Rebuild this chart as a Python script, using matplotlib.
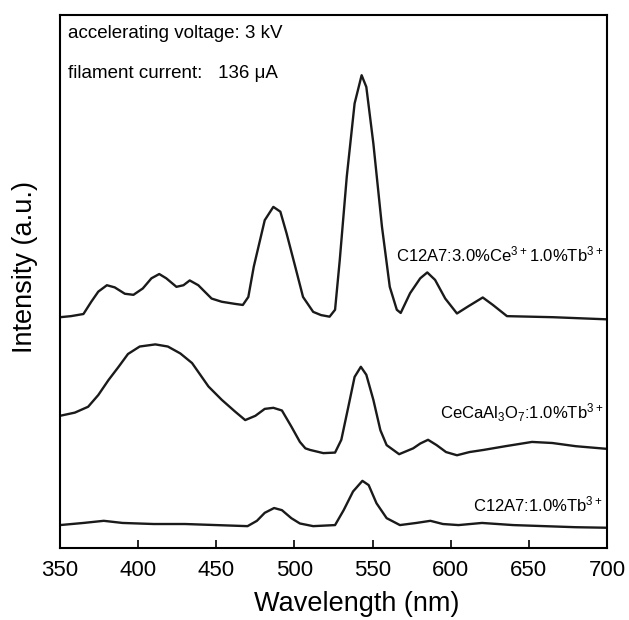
import matplotlib
matplotlib.use("Agg")
import matplotlib.pyplot as plt

plt.rcParams['font.family'] = ['Liberation Sans', 'Noto Sans CJK SC', 'DejaVu Sans']
plt.rcParams['mathtext.default'] = 'regular'

# Top: C12A7:3.0%Ce3+1.0%Tb3+
wl_top = [350, 357, 365, 370, 374.5, 380, 385, 391.5, 397, 403, 408.5, 413.5, 418, 424.5, 429, 433,
          438.5, 447, 453.5, 462, 467, 470.5, 474, 481, 486.5, 491, 495, 500.5, 505.5, 512, 517,
          522.5, 526, 529, 533.5, 538.5, 543, 546, 550.5, 556, 561, 565.5, 568, 574, 580.5, 585, 590,
          596.5, 604, 611, 620.5, 627, 636, 665.5, 700]
int_top = [43.3, 43.5, 43.9, 46.2, 48.1, 49.3, 48.9, 47.7, 47.5, 48.7, 50.6, 51.4, 50.6, 49.0, 49.3, 50.2,
           49.3, 46.8, 46.2, 45.8, 45.6, 47.1, 52.8, 61.5, 64.0, 63.1, 59.0, 52.8, 47.1, 44.3, 43.7,
           43.4, 44.7, 54.0, 69.7, 83.4, 88.7, 86.5, 75.9, 60.3, 49.0, 44.7, 44.1, 47.8, 50.6, 51.7, 50.3,
           46.8, 44.0, 45.3, 47.0, 45.6, 43.5, 43.3, 42.9]

# Middle: CeCaAl3O7:1.0%Tb3+
wl_mid = [350, 359.5, 368, 374.5, 381, 387.5, 393.5, 401, 411, 419, 427, 434.5, 445, 453.5, 462, 468.5,
          475, 481, 486.5, 492, 498, 503.5, 507, 510, 518.5, 526, 530, 534.5, 538.5, 542.5, 546, 550.5,
          555, 559, 567, 576, 580.5, 585.5, 591, 597, 604, 612, 621, 635, 652, 665, 680, 700]
int_mid = [24.8, 25.4, 26.5, 28.7, 31.5, 34.0, 36.4, 37.8, 38.2, 37.8, 36.5, 34.7, 30.3, 27.8, 25.6, 24.0,
           24.8, 26.1, 26.3, 25.8, 22.8, 19.9, 18.7, 18.4, 17.8, 17.9, 20.3, 26.5, 32.1, 34.0, 32.5, 27.8,
           22.1, 19.3, 17.6, 18.7, 19.6, 20.3, 19.3, 18.0, 17.4, 18.0, 18.4, 19.1, 19.9, 19.7, 19.1, 18.6]

# Bottom: C12A7:1.0%Tb3+
wl_bot = [350, 365, 378, 390, 410, 430, 450, 470, 476, 481, 487, 492, 498, 503.5, 512, 526,
          531.5, 537.5, 543.5, 547.5, 552.5, 559, 567.5, 578, 587, 595, 605, 620, 640, 660, 680, 700]
int_bot = [4.3, 4.7, 5.1, 4.7, 4.5, 4.5, 4.3, 4.1, 5.1, 6.6, 7.5, 7.1, 5.6, 4.6, 4.1, 4.3,
           7.1, 10.6, 12.6, 11.8, 8.4, 5.6, 4.3, 4.7, 5.1, 4.5, 4.3, 4.7, 4.3, 4.1, 3.9, 3.8]

labels = [r'C12A7:3.0%Ce$^{3+}$1.0%Tb$^{3+}$',
          r'CeCaAl$_3$O$_7$:1.0%Tb$^{3+}$',
          r'C12A7:1.0%Tb$^{3+}$']
x_ticks = [350, 400, 450, 500, 550, 600, 650, 700]

fig = plt.figure(figsize=(6.29, 6.20), dpi=100)
ax = fig.add_axes([60/629, 72/620, 547/629, 533/620])

for wl, it in [(wl_top, int_top), (wl_mid, int_mid), (wl_bot, int_bot)]:
    ax.plot(wl, it, color='#1a1a1a', lw=1.7, solid_joinstyle='round')

ax.set_xlim(350, 700)
ax.set_ylim(0, 100)
ax.set_xticks(x_ticks)
ax.set_yticks([])
ax.tick_params(axis='x', direction='in', length=6, width=1.2, labelsize=16, pad=9)
for s in ax.spines.values():
    s.set_linewidth(1.5)

ax.set_xlabel('Wavelength (nm)', fontsize=19.5, labelpad=7, x=0.543)
ax.set_ylabel('Intensity (a.u.)', fontsize=19.5, labelpad=16, y=0.527)

ax.text(0.015, 0.966, 'accelerating voltage: 3 kV', transform=ax.transAxes,
        fontsize=13.5, va='center', ha='left')
ax.text(0.015, 0.891, 'filament current:   136 μA', transform=ax.transAxes,
        fontsize=13.5, va='center', ha='left')

label_y = [0.55, 0.253, 0.081]
for lab, yy in zip(labels, label_y):
    ax.text(0.993, yy, lab, transform=ax.transAxes, fontsize=12, ha='right', va='center')

fig.savefig('out.png', dpi=100)
